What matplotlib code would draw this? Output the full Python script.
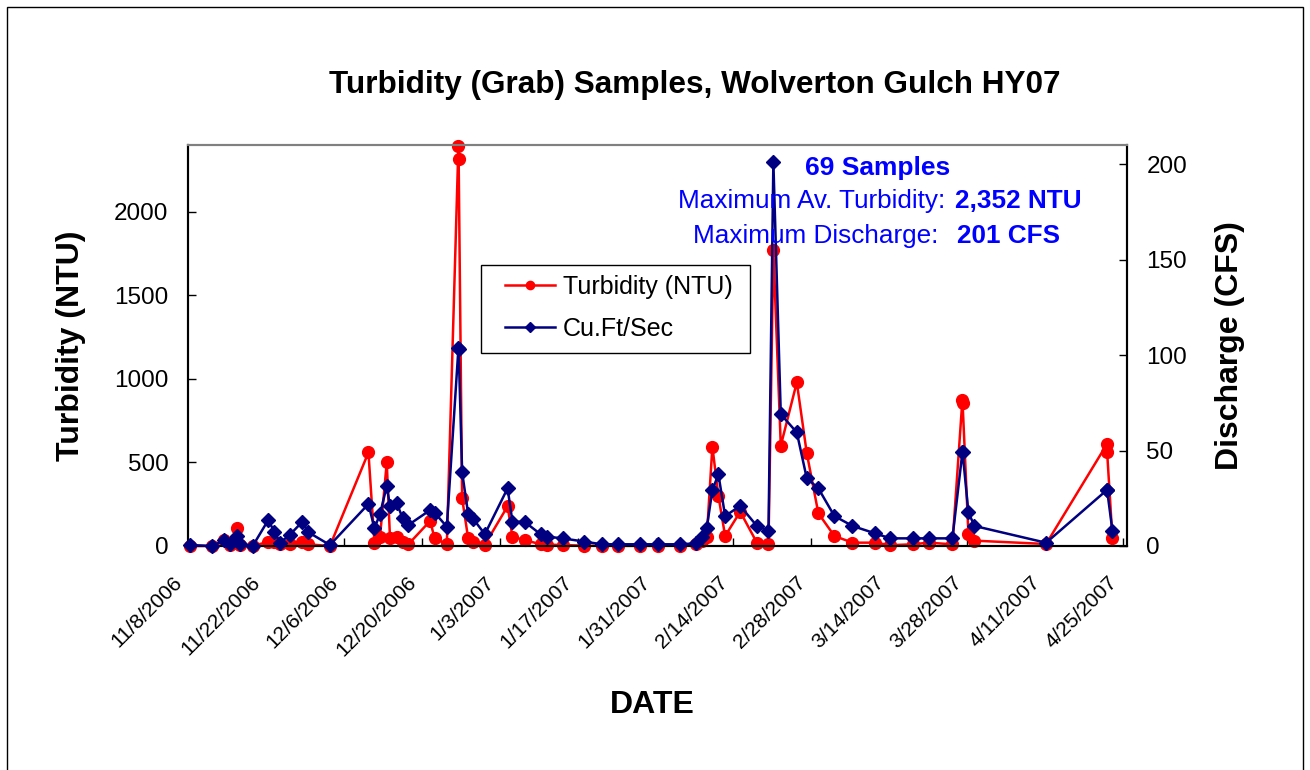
import pandas as pd
import matplotlib
matplotlib.use("Agg")
import matplotlib.pyplot as plt
from matplotlib.patches import Rectangle
from matplotlib.transforms import ScaledTranslation

plt.rcParams['font.family'] = ['Liberation Sans', 'DejaVu Sans']

# sampling times
sample_time = [
    "2006-11-08 09:00", "2006-11-12 09:00", "2006-11-14 12:00", "2006-11-15 13:00",
    "2006-11-16 18:00", "2006-11-17 08:00", "2006-11-19 15:00", "2006-11-22 10:00",
    "2006-11-23 12:00", "2006-11-24 13:00", "2006-11-26 08:00", "2006-11-28 13:00",
    "2006-11-29 15:00", "2006-12-03 12:00", "2006-12-10 10:00", "2006-12-11 12:00",
    "2006-12-12 12:00", "2006-12-13 17:00", "2006-12-14 07:00", "2006-12-15 12:00",
    "2006-12-16 14:00", "2006-12-17 14:00", "2006-12-21 12:00", "2006-12-22 07:00",
    "2006-12-24 12:00", "2006-12-26 14:00", "2006-12-26 15:00", "2006-12-27 06:00",
    "2006-12-28 08:00", "2006-12-29 07:00", "2006-12-31 08:00", "2007-01-04 10:00",
    "2007-01-05 07:00", "2007-01-07 11:00", "2007-01-10 09:00", "2007-01-11 11:00",
    "2007-01-14 08:00", "2007-01-18 05:00", "2007-01-21 08:00", "2007-01-24 08:00",
    "2007-01-28 05:00", "2007-01-31 12:00", "2007-02-04 10:00", "2007-02-07 07:00",
    "2007-02-08 07:00", "2007-02-09 05:00", "2007-02-10 05:00", "2007-02-11 07:00",
    "2007-02-12 12:00", "2007-02-15 05:00", "2007-02-18 05:00", "2007-02-20 07:00",
    "2007-02-21 04:00", "2007-02-22 12:00", "2007-02-25 09:00", "2007-02-27 04:00",
    "2007-03-01 06:00", "2007-03-04 03:00", "2007-03-07 09:00", "2007-03-11 11:00",
    "2007-03-14 04:00", "2007-03-18 05:00", "2007-03-21 01:00", "2007-03-25 08:00",
    "2007-03-27 03:00", "2007-03-27 04:00", "2007-03-28 05:00", "2007-03-29 07:00",
    "2007-04-11 04:00", "2007-04-22 02:00", "2007-04-22 03:00", "2007-04-23 02:00",
]

# turbidity, NTU
turbidity = [
    0, 0, 35, 5, 106, 5, 0, 25, 25, 10, 10, 25,
    10, 0, 560, 20, 56, 500, 46, 56, 26, 10, 150, 48,
    10, 2395, 2315, 285, 46, 24, 8, 238, 55, 36, 10, 8,
    6, 2, 1, 1, 1, 1, 2, 10, 30, 56, 595, 300,
    60, 205, 20, 10, 1770, 600, 980, 556, 196, 60, 20, 20,
    5, 10, 20, 10, 874, 854, 72, 32, 12, 609, 565, 46,
]

# discharge, cubic feet per second
discharge = [
    0.5, 0, 3, 1, 5, 1, 0, 13.6, 7.5, 1.7, 6, 12.7,
    7.2, 0.5, 22, 9.3, 16.8, 31.4, 21, 22.4, 14.5, 11, 18.8, 17.5,
    10.1, 103.5, 103, 38.6, 16.8, 14, 6.2, 30.2, 12.7, 12.7, 6.1, 4.9,
    4, 2.3, 0.9, 0.9, 0.9, 0.9, 0.9, 1.4, 4.9, 9.6, 29.3, 37.5,
    15.7, 21, 10.5, 8, 201, 69, 59.5, 35.5, 30.2, 15.7, 10.5, 6.6,
    4, 4, 4, 4, 49, 49, 17.6, 10.5, 1.7, 29.3, 29.3, 8,
]

t = pd.to_datetime(sample_time)
tick_dates = pd.date_range("2006-11-08", "2007-04-25", freq="14D")
tick_labels = [f"{d.month}/{d.day}/{d.year}" for d in tick_dates]

W, H = 1310, 770
fig = plt.figure(figsize=(W / 100, H / 100), dpi=100)
ax = fig.add_axes([188 / W, 1 - 546 / H, (1127 - 188) / W, (546 - 145) / H])
ax2 = ax.twinx()

red, navy = '#FF0000', '#000080'
l1, = ax.plot(t, turbidity, color=red, lw=1.8, marker='o', ms=8.5,
              mec=red, mfc=red, label='Turbidity (NTU)', clip_on=False, zorder=3)
l2, = ax2.plot(t, discharge, color=navy, lw=1.8, marker='D', ms=7,
               mec=navy, mfc=navy, label='Cu.Ft/Sec', clip_on=False, zorder=3)

x0 = pd.Timestamp("2006-11-08")
ax.set_xlim(x0, x0 + pd.Timedelta(days=168.7))
ax.set_ylim(0, 2400)
ax2.set_ylim(0, 210)
ax.set_yticks([0, 500, 1000, 1500, 2000])
ax2.set_yticks([0, 50, 100, 150, 200])
ax.set_xticks(tick_dates)
ax.set_xticklabels([])

# rotated date labels, nudged left/down the way Excel places them
lab_tr = ax.get_xaxis_transform() + ScaledTranslation(-6 / 72, -24 / 72, fig.dpi_scale_trans)
for d, s in zip(tick_dates, tick_labels):
    ax.text(d, 0, s, transform=lab_tr, rotation=45, ha='right', va='center',
            rotation_mode='anchor', fontsize=15, clip_on=False)

ax.tick_params(axis='y', direction='in', length=6, width=1, labelsize=17.5, pad=14)
ax.tick_params(axis='x', direction='in', length=6, width=1)
ax2.tick_params(axis='y', direction='in', length=6, width=1, labelsize=17.5, pad=14)

for a in (ax, ax2):
    for s in ('left', 'bottom', 'right'):
        a.spines[s].set_color('black')
        a.spines[s].set_linewidth(1.5)
    a.spines['top'].set_color('#808080')
    a.spines['top'].set_linewidth(1.5)

ax.set_ylabel('Turbidity (NTU)', fontsize=23, fontweight='bold', labelpad=20)
ax2.set_ylabel('Discharge (CFS)', fontsize=23, fontweight='bold', labelpad=20)
fig.text(652 / W, 1 - 705 / H, 'DATE', ha='center', va='center',
         fontsize=23, fontweight='bold')

fig.text(695 / W, 1 - 85 / H, 'Turbidity (Grab) Samples, Wolverton Gulch HY07',
         ha='center', va='center', fontsize=22.7, fontweight='bold')

blue = '#0000FF'
fig.text(878 / W, 1 - 168 / H, '69 Samples', ha='center', va='center',
         fontsize=19, fontweight='bold', color=blue)
fig.text(945 / W, 1 - 201 / H, 'Maximum Av. Turbidity:', ha='right', va='center',
         fontsize=18.8, color=blue)
fig.text(955 / W, 1 - 201 / H, '2,352 NTU', ha='left', va='center',
         fontsize=18.8, fontweight='bold', color=blue)
fig.text(938 / W, 1 - 236 / H, 'Maximum Discharge:', ha='right', va='center',
         fontsize=18.8, color=blue)
fig.text(957 / W, 1 - 236 / H, '201 CFS', ha='left', va='center',
         fontsize=18.8, fontweight='bold', color=blue)

# legend entries without frame, box drawn separately (Excel-style padding)
leg = ax2.legend([l1, l2], ['Turbidity (NTU)', 'Cu.Ft/Sec'], loc='upper left',
                 bbox_to_anchor=(505 / W, 1 - 275 / H), bbox_transform=fig.transFigure,
                 borderaxespad=0, borderpad=0, fontsize=18, handlelength=2.0,
                 handletextpad=0.32, labelspacing=0.72, frameon=False,
                 markerscale=0.7)
ax2.add_artist(Rectangle((481 / W, 1 - 353 / H), (750 - 481) / W, (353 - 265) / H,
                         transform=fig.transFigure, fill=True, fc='white',
                         ec='black', lw=1.0, zorder=4))
leg.set_zorder(5)

# outer chart border
fig.add_artist(Rectangle((7 / W, -0.01), (1303 - 7) / W, 1 - 7 / H + 0.01,
                         transform=fig.transFigure, fill=False, ec='black', lw=1.0))

fig.savefig('out.png', dpi=100)
